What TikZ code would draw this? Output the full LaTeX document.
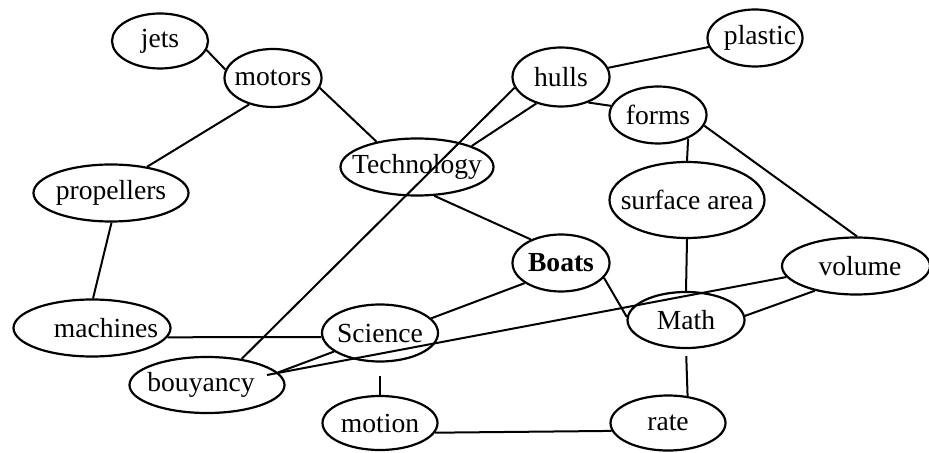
\documentclass[tikz,border=0pt]{standalone}
\usepackage{fontspec}
\setmainfont{Liberation Serif}
\usetikzlibrary{shapes.geometric}
\newcommand{\ctext}[2][0pt]{\makebox[0pt]{\hspace*{#1}#2}}
\begin{document}
\begin{tikzpicture}[x=0.5pt,y=-0.5pt,
  concept/.style={draw, ellipse, line width=1.1pt, inner sep=0pt, font=\fontsize{13.8}{16}\selectfont},
  link/.style={line width=1pt}]
\useasboundingbox (0,0) rectangle (929,453);
\node[concept, minimum width=48pt, minimum height=27.5pt] (jets) at (160,41) {\ctext{jets}};
\node[concept, minimum width=48.5pt, minimum height=29pt] (motors) at (273,78) {\ctext{motors}};
\node[concept, minimum width=47.5pt, minimum height=28.5pt] (plastic) at (755,38) {\ctext[5pt]{plastic}};
\node[concept, minimum width=48.5pt, minimum height=29.5pt] (hulls) at (561,77) {\ctext{hulls}};
\node[concept, minimum width=48.5pt, minimum height=28.5pt] (forms) at (658,115) {\ctext{forms}};
\node[concept, minimum width=76.5pt, minimum height=28.5pt] (tech) at (417,167) {\ctext{Technology}};
\node[concept, minimum width=77.5pt, minimum height=28.5pt] (prop) at (111,193) {\ctext{propellers}};
\node[concept, minimum width=77.5pt, minimum height=38pt] (surf) at (687,200) {\ctext{surface area}};
\node[concept, minimum width=48.5pt, minimum height=28.5pt] (boats) at (561,263) {\ctext{\bfseries Boats}};
\node[concept, minimum width=74pt, minimum height=28.5pt] (vol) at (856,266) {\ctext[4pt]{volume}};
\node[concept, minimum width=78.5pt, minimum height=28.5pt] (mach) at (92,328) {\ctext[14pt]{machines}};
\node[concept, minimum width=58pt, minimum height=28.5pt] (sci) at (380,333) {\ctext{Science}};
\node[concept, minimum width=58.5pt, minimum height=28pt] (math) at (686,320) {\ctext{Math}};
\node[concept, minimum width=77.5pt, minimum height=28pt] (bouy) at (207,385) {\ctext[-6pt]{bouyancy}};
\node[concept, minimum width=57.5pt, minimum height=27pt] (motion) at (380,423) {\ctext{motion}};
\node[concept, minimum width=57.5pt, minimum height=27.5pt] (rate) at (668,423) {\ctext{rate}};
\coordinate (bA) at (267,375);

\draw[link] (jets.-11) -- (motors.170);
\draw[link] (motors.-132) -- (prop.36);
\draw[link] (motors.-12) -- (tech.148);
\draw[link] (hulls.11) -- (plastic.-169);
\draw[link] (hulls.193) -- (bouy.37);
\draw[link] (hulls.-133) -- (tech.21);
\draw[link] (hulls.-43) -- (forms.169);
\draw[link] (forms.-38) -- (surf.north);
\draw[link] (forms.-13) -- (vol.88);
\draw[link] (tech.-59) -- (boats.142);
\draw[link] (boats.-151) -- (sci.16);
\draw[link] (boats.-19) -- (math.177);
\draw[link] (surf.south) -- (math.north);
\draw[link] (vol.211) -- (math.4);
\draw[link] (vol.189) -- (bA);
\draw[link] (sci.202) -- (bouy.10);
\draw[link] (mach.-7) -- (sci.184);
\draw[link] (prop.-89) -- (mach.88);
\draw[link, shorten <=6.5pt] (sci.south) -- (motion.north);
\draw[link, shorten <=3.5pt] (math.south) -- (rate.54);
\draw[link] (motion.-10) -- (rate.188);
\end{tikzpicture}
\end{document}
